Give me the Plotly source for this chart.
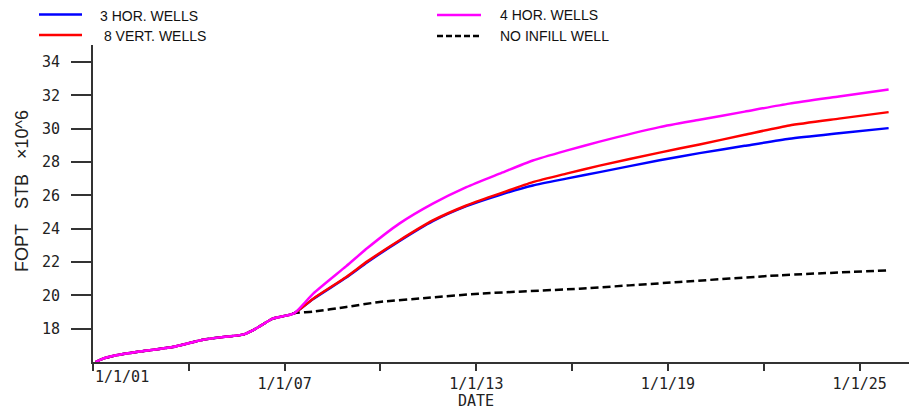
import plotly.graph_objects as go

# ---------------- data ----------------
hist_dates = ["2001-02-01", "2001-04-05", "2001-09-24", "2002-07-05", "2003-07-01",
              "2004-06-10", "2005-01-26", "2005-09-10", "2006-01-01", "2006-04-09",
              "2006-08-18", "2007-01-19", "2007-04-23"]
hist_values = [16.0, 16.16, 16.4, 16.64, 16.9, 17.34, 17.5, 17.64, 17.9, 18.2,
               18.6, 18.78, 18.93]

fc_dates = ["2007-11-24", "2008-12-06", "2009-08-08", "2010-08-04", "2011-08-22",
            "2012-09-09", "2013-09-24", "2014-10-09", "2015-10-27", "2016-11-10",
            "2018-09-27", "2019-12-28", "2021-05-27", "2022-10-19", "2024-05-08",
            "2025-11-28"]
hor4_values = [20.1, 21.75, 22.85, 24.3, 25.5, 26.49, 27.3, 28.09, 28.68, 29.22,
               30.09, 30.53, 31.02, 31.5, 31.93, 32.35]
vert8_values = [19.8, 21.1, 22.05, 23.29, 24.49, 25.39, 26.1, 26.79, 27.3, 27.78,
                28.56, 29.05, 29.63, 30.19, 30.6, 30.99]
hor3_values = [19.78, 21.07, 22.0, 23.25, 24.45, 25.35, 26.02, 26.59, 27.0, 27.39,
               28.1, 28.53, 28.97, 29.39, 29.72, 30.03]

noinfill_dates = ["2007-11-24", "2008-12-06", "2009-12-20", "2011-07-02", "2013-02-06",
                  "2016-03-25", "2019-05-12", "2022-06-28", "2025-11-28"]
noinfill_values = [19.02, 19.3, 19.6, 19.85, 20.1, 20.4, 20.8, 21.2, 21.5]

series_names = ["3 HOR. WELLS", " 8 VERT. WELLS", "4 HOR. WELLS", "NO INFILL WELL"]

x_tick_dates = ["2001-01-01", "2004-01-01", "2007-01-01", "2010-01-01", "2013-01-01",
                "2016-01-01", "2019-01-01", "2022-01-01", "2025-01-01"]
x_tick_text = ["", "", "1/1/07", "", "1/1/13", "", "1/1/19", "", "1/1/25"]
y_tick_vals = [18, 20, 22, 24, 26, 28, 30, 32, 34]

# ---------------- layout geometry ----------------
W, H = 909, 410
ML, MR, MT, MB = 93, 0, 45, 48
PW, PH = W - ML - MR, H - MT - MB


def px(xp):
    return (xp - ML) / PW


def py(yp):
    return (H - MB - yp) / PH


fig = go.Figure()

fig.add_trace(go.Scatter(x=hist_dates + noinfill_dates, y=hist_values + noinfill_values,
                         mode="lines", name=series_names[3],
                         line=dict(color="black", width=2.5, dash="8px,4px",
                                   shape="spline", smoothing=0.6)))
fig.add_trace(go.Scatter(x=hist_dates + fc_dates, y=hist_values + hor3_values,
                         mode="lines", name=series_names[0],
                         line=dict(color="#0000ff", width=2.5,
                                   shape="spline", smoothing=0.6)))
fig.add_trace(go.Scatter(x=hist_dates + fc_dates, y=hist_values + vert8_values,
                         mode="lines", name=series_names[1],
                         line=dict(color="#ff0000", width=2.5,
                                   shape="spline", smoothing=0.6)))
fig.add_trace(go.Scatter(x=hist_dates + fc_dates, y=hist_values + hor4_values,
                         mode="lines", name=series_names[2],
                         line=dict(color="#ff00ff", width=2.5,
                                   shape="spline", smoothing=0.6)))

mono = "DejaVu Sans Mono"
sans = "Liberation Sans, Arial"

fig.update_layout(
    width=W, height=H,
    margin=dict(l=ML, r=MR, t=MT, b=MB),
    paper_bgcolor="white", plot_bgcolor="white",
    showlegend=False,
    xaxis=dict(type="date", range=["2001-01-01", "2026-07-19"],
               showline=True, linecolor="#333", linewidth=2,
               ticks="outside", ticklen=7, tickwidth=2, tickcolor="#333",
               tickvals=x_tick_dates, ticktext=x_tick_text,
               tickfont=dict(family=mono, size=15, color="#222"),
               showgrid=False, zeroline=False),
    yaxis=dict(range=[16, 16 + PH / 16.67],
               showline=True, linecolor="#333", linewidth=2,
               ticks="outside", ticklen=20, tickwidth=2, tickcolor="#333",
               tickvals=y_tick_vals,
               tickfont=dict(family=mono, size=15, color="#222"),
               ticklabelstandoff=8,
               showgrid=False, zeroline=False),
)

# first x tick label (left-aligned at the axis origin)
fig.add_annotation(x=px(93), y=py(377), xref="paper", yref="paper",
                   text="1/1/01", showarrow=False, xanchor="left", yanchor="middle",
                   font=dict(family=mono, size=15, color="#222"))
# x title
fig.add_annotation(x="2013-01-01", y=py(401), xref="x", yref="paper",
                   text="DATE", showarrow=False, xanchor="center", yanchor="middle",
                   font=dict(family=mono, size=15, color="#222"))
# y title
fig.add_annotation(x=px(22), y=py(191), xref="paper", yref="paper",
                   text="FOPT\u00a0\u00a0\u00a0STB\u00a0\u00a0\u00a0×10^6", textangle=-90,
                   showarrow=False, xanchor="center", yanchor="middle",
                   font=dict(family=sans, size=18, color="#222"))

# legend (manual, two columns)
legend_items = [
    (series_names[0], "#0000ff", "solid", 39, 82, 14.5, 98, 16),
    (series_names[1], "#ff0000", "solid", 39, 82, 35, 98, 36),
    (series_names[2], "#ff00ff", "solid", 437, 481, 15, 498, 15),
    (series_names[3], "black", "6px,3px", 437, 481, 36, 498, 36),
]
for name, color, dash, x0, x1, yl, xt, yt in legend_items:
    fig.add_shape(type="line", xref="paper", yref="paper",
                  x0=px(x0), x1=px(x1), y0=py(yl), y1=py(yl),
                  line=dict(color=color, width=2.5, dash=dash))
    fig.add_annotation(x=px(xt), y=py(yt), xref="paper", yref="paper",
                       text=name.replace(" ", "\u00a0"), showarrow=False,
                       xanchor="left", yanchor="middle",
                       font=dict(family=sans, size=14, color="#111"))

fig.write_html("out.html")
